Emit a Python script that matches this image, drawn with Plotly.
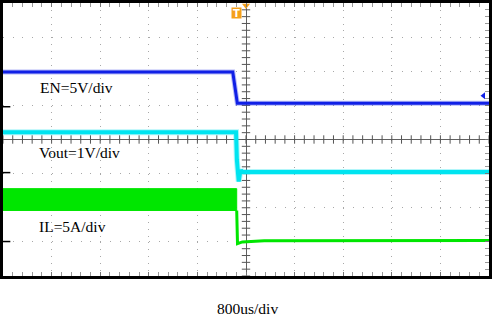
import numpy as np
import plotly.graph_objects as go

# Time in microseconds (800 us/div, 10 div), vertical in screen divisions (8 div)
en_t = [-4000, -218, -143, 4000]
en_y = [1.98, 1.98, 1.06, 1.06]

vout_t = [-4000, -164, -150, -120, -100, -82, -60, 4000]
vout_y = [0.21, 0.21, -0.6, -1.23, -1.0, -0.9, -0.95, -0.95]

il_band_t = [-4000, -153, -153, -4000]
il_band_y = [-1.44, -1.44, -2.08, -2.08]
il_t = [-153, -150, -140, -60, 300, 4000]
il_y = [-2.08, -3.05, -3.05, -3.0, -2.97, -2.96]

labels = ["EN=5V/div", "Vout=1V/div", "IL=5A/div"]
label_t = [-3417, -3433, -3433]
label_y = [1.53, -0.37, -2.56]
xlabel = "800us/div"

blue = "#1020e6"
cyan = "#00e4f0"
green = "#00e600"
orange = "#f5a01a"

fig = go.Figure()

# center-axis minor ticks
minor_x = np.arange(-4000, 4001, 160)
minor_y = np.arange(-4, 4.001, 0.2)
fig.add_trace(go.Scatter(x=minor_x, y=np.zeros_like(minor_x), mode="markers",
                         marker=dict(symbol="line-ns", size=6, line=dict(width=1, color="#555555")),
                         hoverinfo="skip", showlegend=False))
fig.add_trace(go.Scatter(x=np.zeros_like(minor_y), y=minor_y, mode="markers",
                         marker=dict(symbol="line-ew", size=6, line=dict(width=1, color="#555555")),
                         hoverinfo="skip", showlegend=False))

# halos
fig.add_trace(go.Scatter(x=en_t, y=en_y, mode="lines", line=dict(color=blue, width=5),
                         opacity=0.3, showlegend=False, hoverinfo="skip"))
fig.add_trace(go.Scatter(x=vout_t, y=vout_y, mode="lines", line=dict(color=cyan, width=6),
                         opacity=0.3, showlegend=False, hoverinfo="skip"))

fig.add_trace(go.Scatter(x=en_t, y=en_y, mode="lines", line=dict(color=blue, width=3),
                         showlegend=False))
fig.add_trace(go.Scatter(x=vout_t, y=vout_y, mode="lines", line=dict(color=cyan, width=4),
                         showlegend=False))
fig.add_trace(go.Scatter(x=il_band_t, y=il_band_y, mode="lines", fill="toself",
                         fillcolor=green, line=dict(color=green, width=1), showlegend=False))
fig.add_trace(go.Scatter(x=il_t, y=il_y, mode="lines", line=dict(color=green, width=3),
                         showlegend=False))

# markers: trigger position, channel ground markers
fig.add_trace(go.Scatter(x=[0], y=[3.93], mode="markers",
                         marker=dict(symbol="triangle-down", size=7, color=orange),
                         cliponaxis=False, showlegend=False))
fig.add_trace(go.Scatter(x=[3910], y=[1.28], mode="markers",
                         marker=dict(symbol="triangle-left", size=6, color=blue),
                         showlegend=False))
fig.add_trace(go.Scatter(x=[-3960, -3960, -3960], y=[0.96, -0.97, -2.99], mode="markers",
                         marker=dict(symbol="line-ew", size=7, line=dict(width=1.5, color="black")),
                         showlegend=False))

annotations = []
for txt, tx, ty in zip(labels, label_t, label_y):
    annotations.append(dict(x=tx, y=ty, xref="x", yref="y", text=txt, showarrow=False,
                            xanchor="left", yanchor="middle",
                            font=dict(family="Liberation Serif", size=15.5, color="black")))
annotations.append(dict(x=-164, y=3.7, xref="x", yref="y", text="<b>T</b>", showarrow=False,
                        font=dict(family="DejaVu Sans", size=10, color="white"),
                        bgcolor=orange, borderpad=0, width=9, height=10))
annotations.append(dict(x=(247 - 3) / 486, y=-(308 - 276) / 273, xref="paper", yref="paper",
                        text=xlabel, showarrow=False, xanchor="center", yanchor="middle",
                        font=dict(family="Liberation Serif", size=15.5, color="black")))

fig.update_layout(
    width=494, height=320,
    margin=dict(l=3, r=5, t=3, b=44, autoexpand=False),
    paper_bgcolor="white", plot_bgcolor="white",
    showlegend=False,
    annotations=annotations,
    xaxis=dict(range=[-4000, 4000], tick0=-4000, dtick=800, showticklabels=False, automargin=False,
               showgrid=True, gridcolor="#a8a8a8", gridwidth=1, griddash="1px,5.84px",
               zeroline=True, zerolinecolor="#606060", zerolinewidth=1,
               showline=True, linecolor="black", linewidth=3, mirror="allticks",
               ticks="inside", ticklen=4, tickcolor="#777777",
               minor=dict(dtick=160, ticks="inside", ticklen=4, tickcolor="#999999", showgrid=False),
               fixedrange=True),
    yaxis=dict(range=[-4, 4], tick0=-4, dtick=1, showticklabels=False, side="right", automargin=False,
               showgrid=True, gridcolor="#a8a8a8", gridwidth=1, griddash="1px,8.72px",
               zeroline=True, zerolinecolor="#606060", zerolinewidth=1,
               showline=True, linecolor="black", linewidth=3, mirror=True,
               ticks="inside", ticklen=4, tickcolor="#777777",
               minor=dict(dtick=0.2, ticks="inside", ticklen=4, tickcolor="#999999", showgrid=False),
               fixedrange=True),
)

fig.write_html("out.html")
